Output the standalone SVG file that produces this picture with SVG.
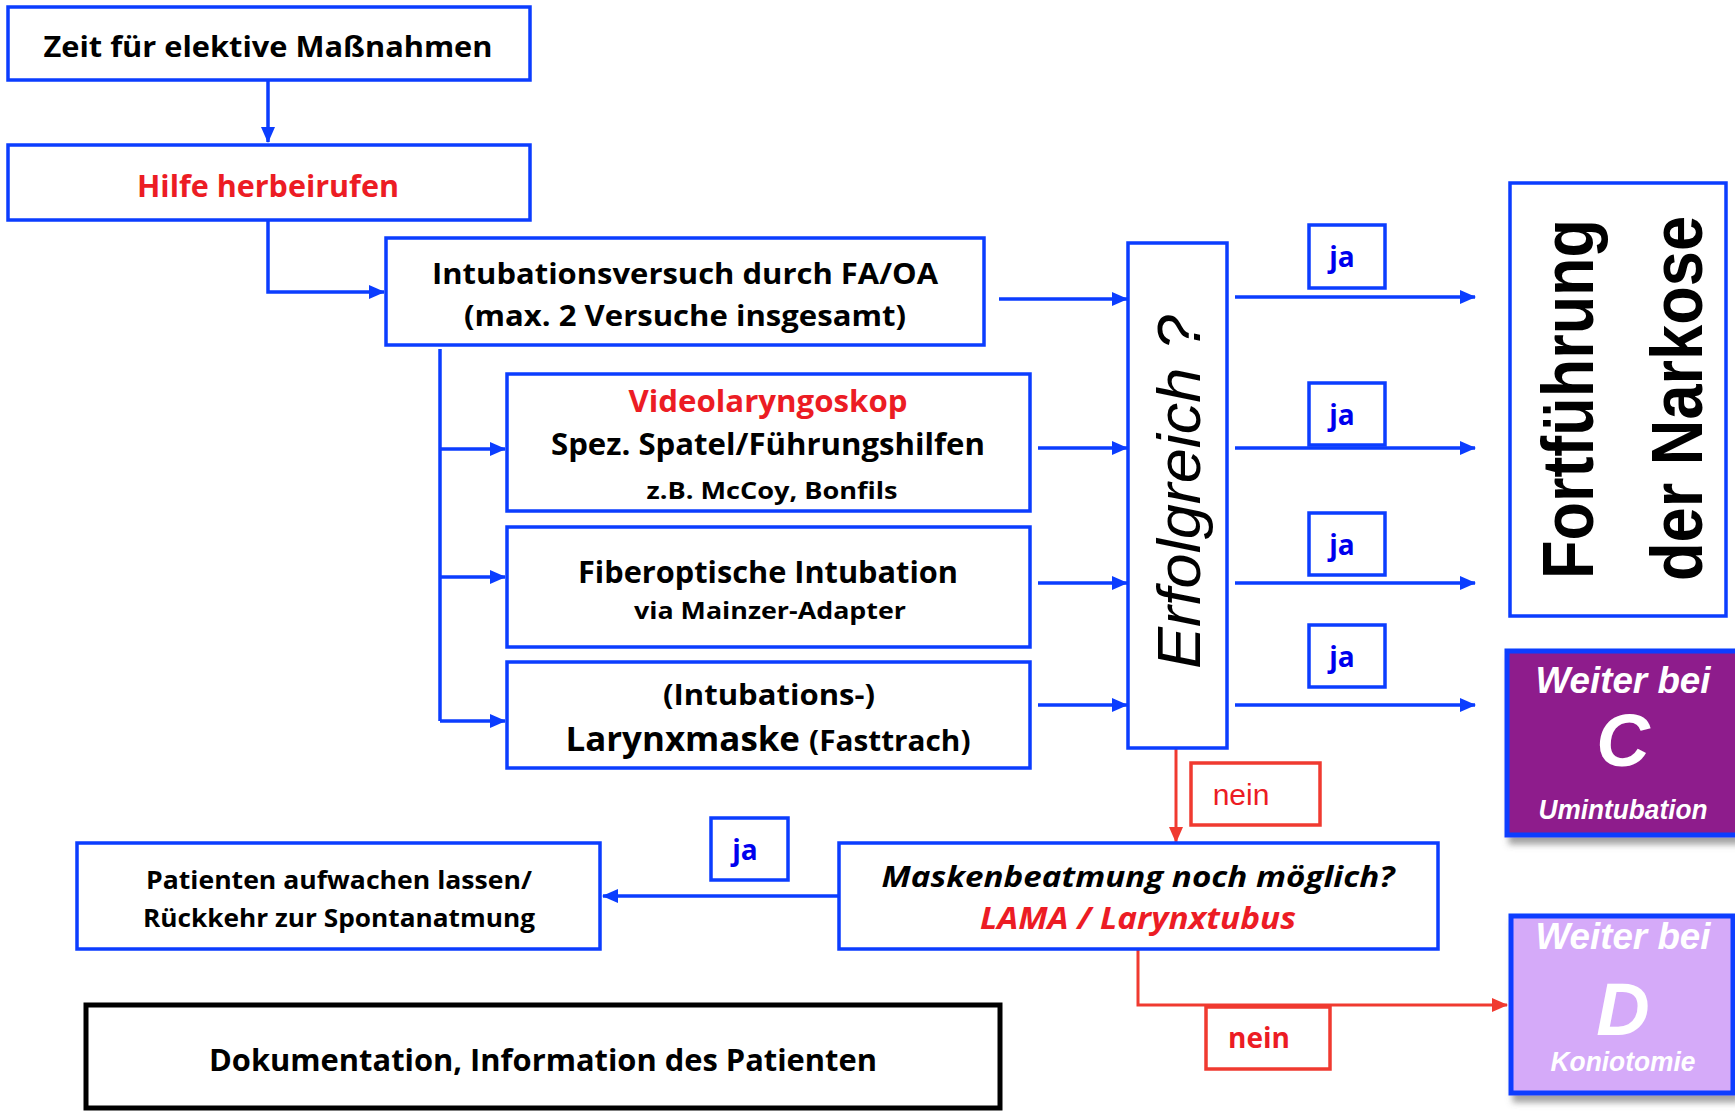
<svg xmlns="http://www.w3.org/2000/svg" width="1735" height="1111" viewBox="0 0 1735 1111">
<style>
.box{fill:#fff;stroke:#0b3dff;stroke-width:3.5}
.t{font-family:"Open Sans","Noto Sans",sans-serif;font-weight:700;fill:#000;text-anchor:middle}
.red{fill:#ec1c24}
.ja{font-family:"Open Sans","Noto Sans",sans-serif;font-weight:700;fill:#0000ee;font-size:28px;text-anchor:middle}
.nein{fill:#fff;stroke:#f03a30;stroke-width:3.5}
.arw{fill:#fff;font-family:"Liberation Sans",Arial,sans-serif;font-weight:700;font-style:italic;text-anchor:middle}
.bl{fill:none;stroke:#0b3dff;stroke-width:3.5}
.rl{fill:none;stroke:#f03a30;stroke-width:3}
</style>
<defs>
<marker id="ab" markerUnits="userSpaceOnUse" markerWidth="16" markerHeight="14" refX="15" refY="7" orient="auto"><path d="M0,0 L16,7 L0,14 z" fill="#0b3dff"/></marker>
<marker id="ar" markerUnits="userSpaceOnUse" markerWidth="16" markerHeight="14" refX="15" refY="7" orient="auto"><path d="M0,0 L16,7 L0,14 z" fill="#f03a30"/></marker>
<filter id="sh" x="-10%" y="-10%" width="130%" height="130%"><feDropShadow dx="4" dy="7" stdDeviation="3" flood-color="#666" flood-opacity="0.6"/></filter>
</defs>

<g id="connectors">
<path class="bl" d="M268,80 V142" marker-end="url(#ab)"/>
<path class="bl" d="M268,220 V292 H384" marker-end="url(#ab)"/>
<path class="bl" d="M999,299 H1127" marker-end="url(#ab)"/>
<path class="bl" d="M440,349 V721"/>
<path class="bl" d="M440,449 H505" marker-end="url(#ab)"/>
<path class="bl" d="M440,577 H505" marker-end="url(#ab)"/>
<path class="bl" d="M440,721 H505" marker-end="url(#ab)"/>
<path class="bl" d="M1038,448 H1127" marker-end="url(#ab)"/>
<path class="bl" d="M1038,583 H1127" marker-end="url(#ab)"/>
<path class="bl" d="M1038,705 H1127" marker-end="url(#ab)"/>
<path class="bl" d="M1235,297 H1475" marker-end="url(#ab)"/>
<path class="bl" d="M1235,448 H1475" marker-end="url(#ab)"/>
<path class="bl" d="M1235,583 H1475" marker-end="url(#ab)"/>
<path class="bl" d="M1235,705 H1475" marker-end="url(#ab)"/>
<path class="rl" d="M1176,749 V842" marker-end="url(#ar)"/>
<path class="bl" d="M839,896 H603" marker-end="url(#ab)"/>
<path class="rl" d="M1138,950 V1005 H1507" marker-end="url(#ar)"/>
</g>

<g id="n-zeit">
<rect class="box" x="8" y="7" width="522" height="73"/>
<text class="t" x="268" y="57" font-size="29" textLength="449" lengthAdjust="spacingAndGlyphs">Zeit für elektive Maßnahmen</text>
</g>
<g id="n-hilfe">
<rect class="box" x="8" y="145" width="522" height="75"/>
<text class="t red" x="268" y="197" font-size="30" textLength="262" lengthAdjust="spacingAndGlyphs">Hilfe herbeirufen</text>
</g>
<g id="n-intub">
<rect class="box" x="386" y="238" width="598" height="107"/>
<text class="t" x="685" y="284" font-size="29" textLength="506" lengthAdjust="spacingAndGlyphs">Intubationsversuch durch FA/OA</text>
<text class="t" x="685" y="326" font-size="29" textLength="442" lengthAdjust="spacingAndGlyphs">(max. 2 Versuche insgesamt)</text>
</g>
<g id="n-video">
<rect class="box" x="507" y="374" width="523" height="137"/>
<text class="t red" x="768" y="412" font-size="30" textLength="279" lengthAdjust="spacingAndGlyphs">Videolaryngoskop</text>
<text class="t" x="768" y="455" font-size="30" textLength="434" lengthAdjust="spacingAndGlyphs">Spez. Spatel/Führungshilfen</text>
<text class="t" x="772" y="499" font-size="24" textLength="251" lengthAdjust="spacingAndGlyphs">z.B. McCoy, Bonfils</text>
</g>
<g id="n-fiber">
<rect class="box" x="507" y="527" width="523" height="120"/>
<text class="t" x="768" y="583" font-size="30" textLength="380" lengthAdjust="spacingAndGlyphs">Fiberoptische Intubation</text>
<text class="t" x="770" y="619" font-size="24" textLength="272" lengthAdjust="spacingAndGlyphs">via Mainzer-Adapter</text>
</g>
<g id="n-lm">
<rect class="box" x="507" y="662" width="523" height="106"/>
<text class="t" x="769" y="705" font-size="29" textLength="212" lengthAdjust="spacingAndGlyphs">(Intubations-)</text>
<text class="t" x="768" y="751" textLength="405" lengthAdjust="spacingAndGlyphs"><tspan font-size="34">Larynxmaske </tspan><tspan font-size="29">(Fasttrach)</tspan></text>
</g>
<g id="n-erfolg">
<rect class="box" x="1128" y="243" width="99" height="505"/>
<text transform="translate(1200,492) rotate(-90)" font-family="'Liberation Sans',Arial,sans-serif" font-style="italic" font-size="62" text-anchor="middle" textLength="354" lengthAdjust="spacingAndGlyphs">Erfolgreich ?</text>
</g>
<g id="n-ja1"><rect class="box" x="1309" y="225" width="76" height="63"/><text class="ja" x="1342" y="267">ja</text></g>
<g id="n-ja2"><rect class="box" x="1309" y="383" width="76" height="62"/><text class="ja" x="1342" y="425">ja</text></g>
<g id="n-ja3"><rect class="box" x="1309" y="513" width="76" height="62"/><text class="ja" x="1342" y="555">ja</text></g>
<g id="n-ja4"><rect class="box" x="1309" y="625" width="76" height="62"/><text class="ja" x="1342" y="667">ja</text></g>
<g id="n-fort">
<rect class="box" x="1510" y="183" width="216" height="433"/>
<text transform="translate(1593,579) rotate(-90)" font-family="'Liberation Sans',Arial,sans-serif" font-weight="700" font-size="72" textLength="360" lengthAdjust="spacingAndGlyphs">Fortführung</text>
<text transform="translate(1702,581) rotate(-90)" font-family="'Liberation Sans',Arial,sans-serif" font-weight="700" font-size="72" textLength="365" lengthAdjust="spacingAndGlyphs">der Narkose</text>
</g>
<g id="n-c">
<rect x="1507" y="651" width="232" height="184" fill="#8e1f8c" stroke="#0b3dff" stroke-width="5" filter="url(#sh)"/>
<text class="arw" x="1623" y="693" font-size="36" textLength="175" lengthAdjust="spacingAndGlyphs">Weiter bei</text>
<text class="arw" x="1623" y="766" font-size="74">C</text>
<text class="arw" x="1623" y="819" font-size="27" textLength="169" lengthAdjust="spacingAndGlyphs">Umintubation</text>
</g>
<g id="n-nein1">
<rect class="nein" x="1191" y="763" width="129" height="62"/>
<text x="1241" y="805" font-family="'Liberation Sans',Arial,sans-serif" font-size="30" fill="#ec1c24" text-anchor="middle">nein</text>
</g>
<g id="n-masken">
<rect class="box" x="839" y="843" width="599" height="106"/>
<text class="t" x="1138" y="887" font-size="29" font-style="italic" textLength="513" lengthAdjust="spacingAndGlyphs">Maskenbeatmung noch möglich?</text>
<text class="t red" x="1138" y="929" font-size="30" font-style="italic" textLength="316" lengthAdjust="spacingAndGlyphs">LAMA / Larynxtubus</text>
</g>
<g id="n-ja5"><rect class="box" x="711" y="818" width="77" height="62"/><text class="ja" x="745" y="860">ja</text></g>
<g id="n-pat">
<rect class="box" x="77" y="843" width="523" height="106"/>
<text class="t" x="339" y="889" font-size="25" textLength="386" lengthAdjust="spacingAndGlyphs">Patienten aufwachen lassen/</text>
<text class="t" x="339" y="927" font-size="25" textLength="392" lengthAdjust="spacingAndGlyphs">Rückkehr zur Spontanatmung</text>
</g>
<g id="n-nein2">
<rect class="nein" x="1206" y="1007" width="124" height="62"/>
<text class="t red" x="1259" y="1048" font-size="28">nein</text>
</g>
<g id="n-d">
<rect x="1511" y="916" width="222" height="177" fill="#d5aaf9" stroke="#0b3dff" stroke-width="5" filter="url(#sh)"/>
<text class="arw" x="1623" y="949" font-size="36" textLength="175" lengthAdjust="spacingAndGlyphs">Weiter bei</text>
<text class="arw" x="1623" y="1035" font-size="74">D</text>
<text class="arw" x="1623" y="1071" font-size="27" textLength="145" lengthAdjust="spacingAndGlyphs">Koniotomie</text>
</g>
<g id="n-doku">
<rect x="86" y="1005" width="914" height="103" fill="#fff" stroke="#000" stroke-width="5"/>
<text class="t" x="543" y="1071" font-size="30" textLength="668" lengthAdjust="spacingAndGlyphs">Dokumentation, Information des Patienten</text>
</g>
</svg>
